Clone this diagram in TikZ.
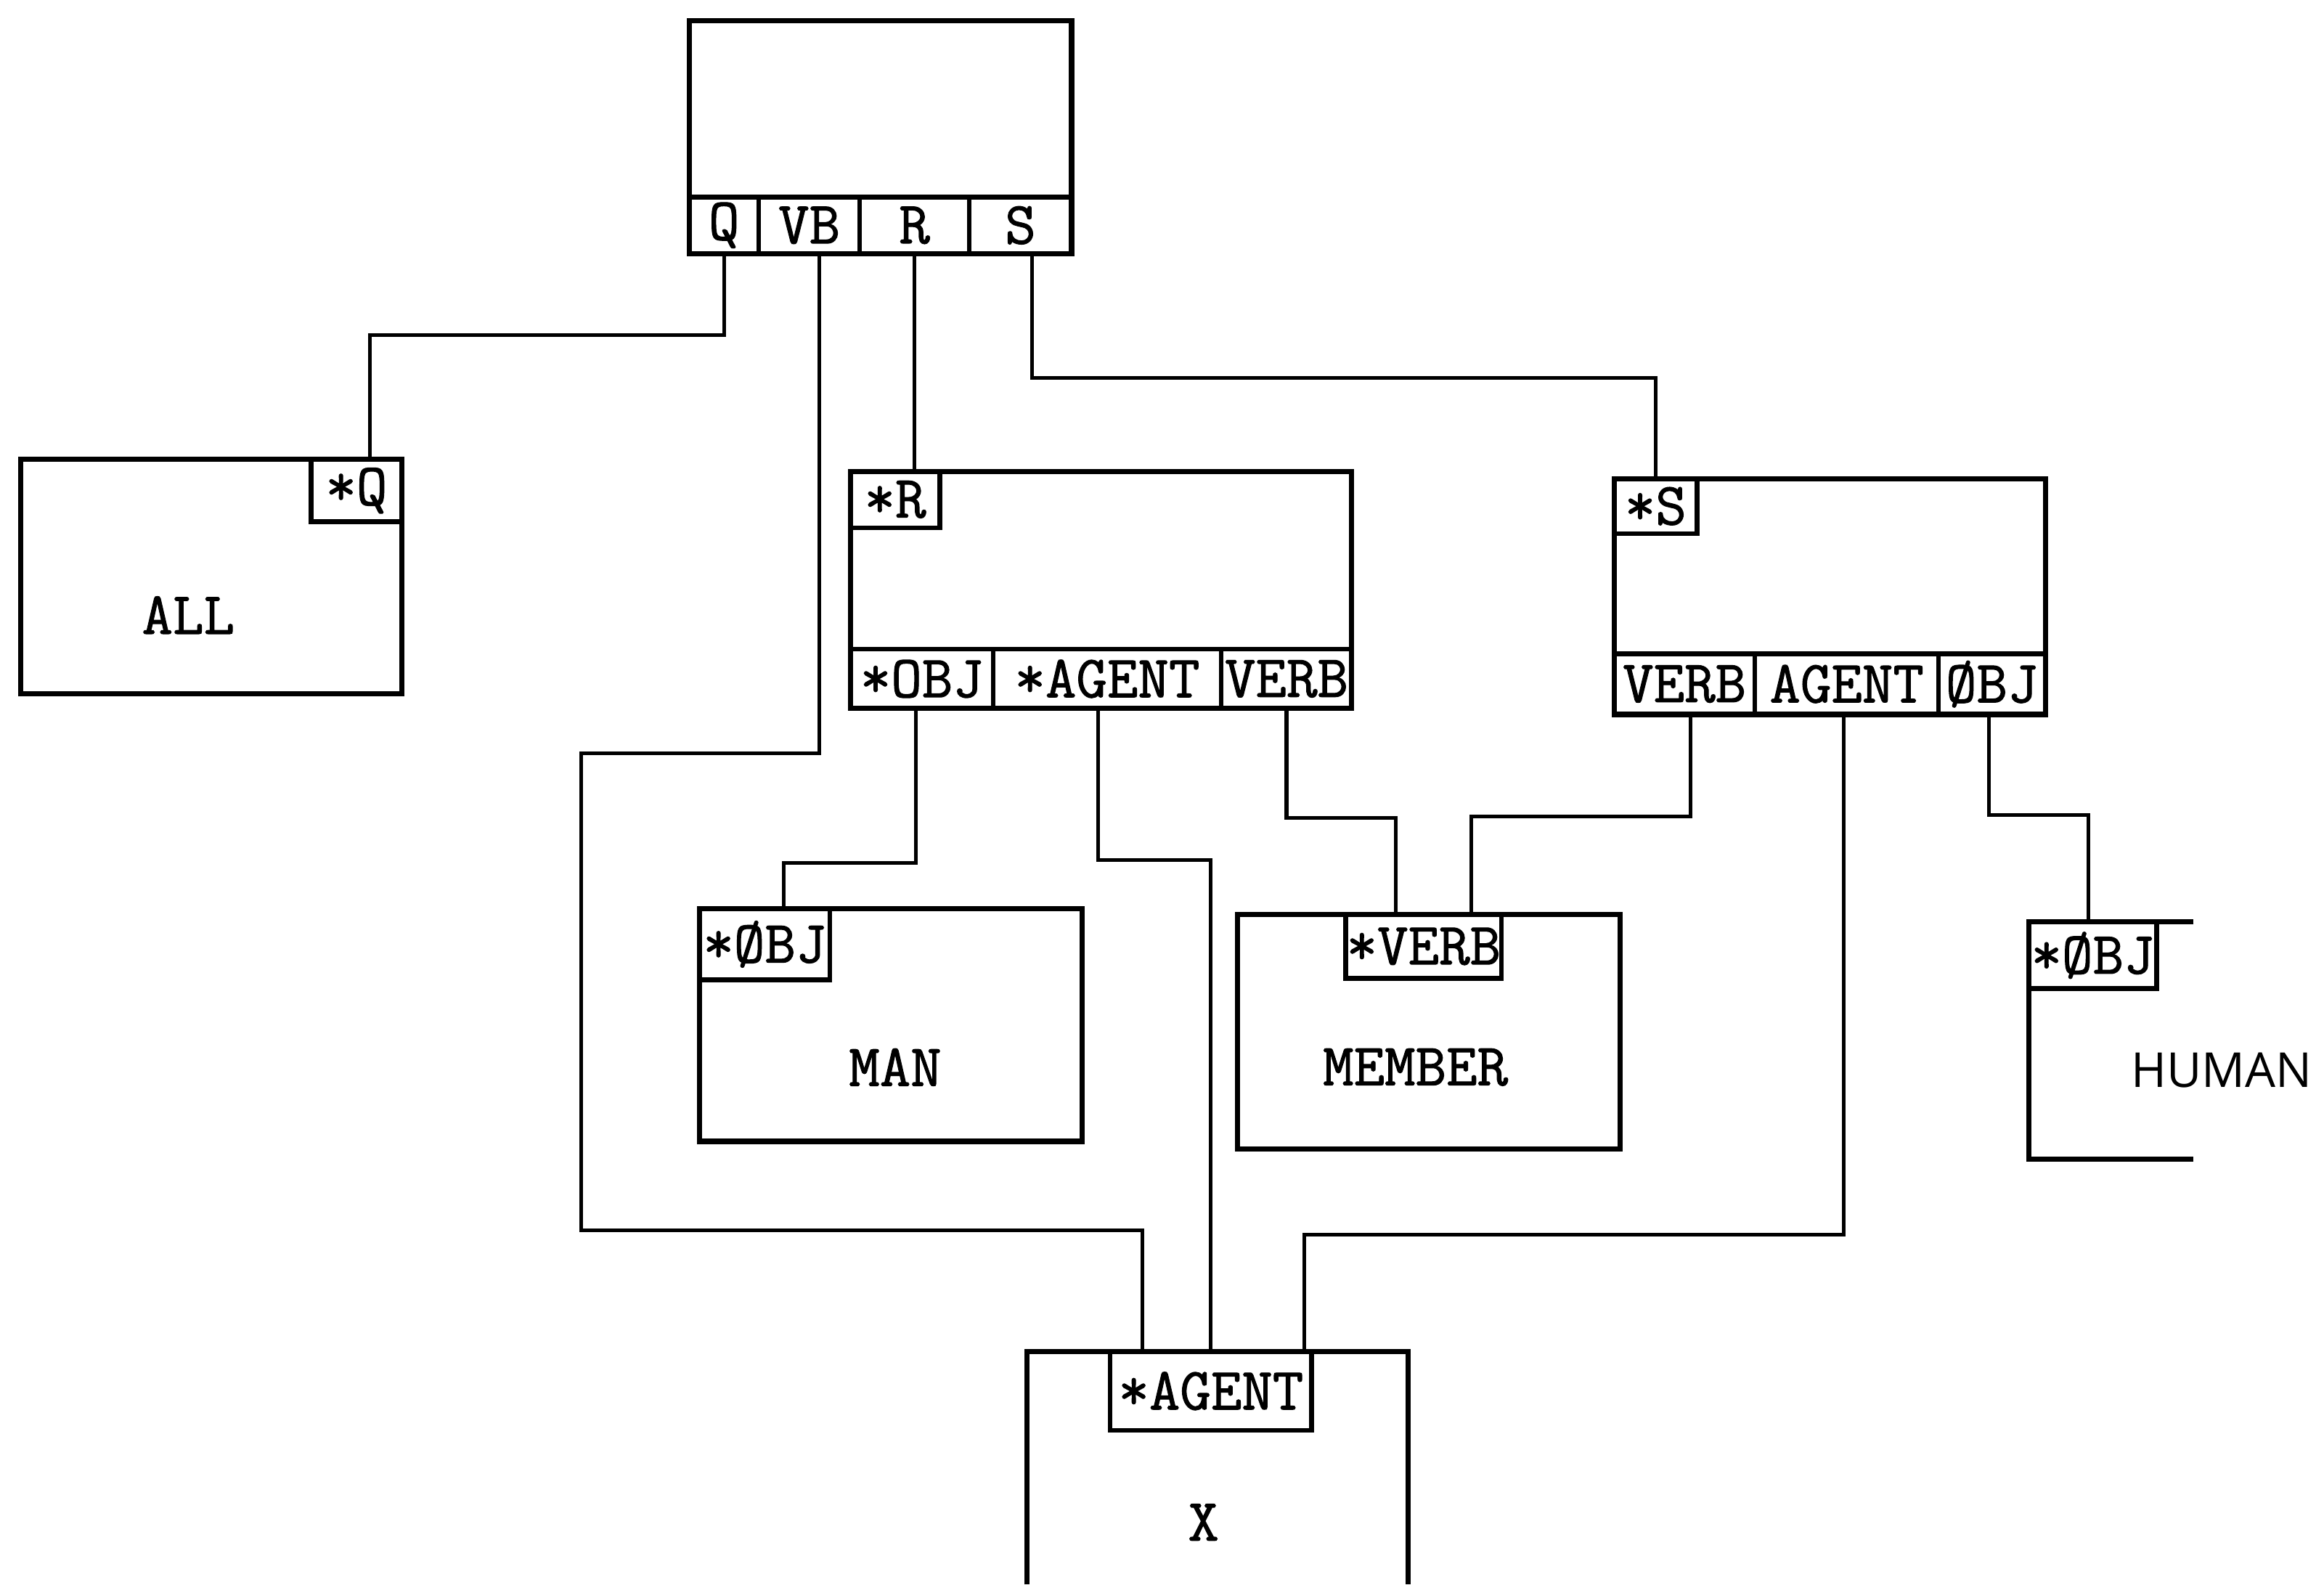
\documentclass[tikz,border=0pt]{standalone}
\usepackage{fontspec}
\newfontfamily\humanfont{Open Sans}
\newfontfamily\tw{Latin Modern Mono}[FakeBold=1.3]
\usetikzlibrary{calc}
\newcommand\mkbox[5]{\node[box,minimum width={(#4-#2)*0.02cm},minimum height={(#5-#3)*0.02cm}] (#1) at (#2,#3) {};}
\newcommand\mkslot[6]{\node[slot,minimum width={(#4-#2)*0.02cm},minimum height={(#5-#3)*0.02cm}] (#1) at (#2,#3) {#6};}
\begin{document}
\begin{tikzpicture}[x=0.02cm,y=-0.02cm,
  box/.style={draw,line width=2pt,inner sep=0pt,outer sep=0pt,anchor=north west},
  slot/.style={draw,line width=1.8pt,inner sep=0pt,outer sep=0pt,anchor=north west,font=\fontsize{23}{26}\selectfont\tw},
  lbl/.style={font=\fontsize{23}{26}\selectfont\tw,inner sep=0pt},
  wire/.style={line width=1.4pt}]
\useasboundingbox (0,0) rectangle (1568,1069);
% top box
\mkbox{top}{465}{14}{723}{171}
\mkslot{q}{465}{133}{512}{171}{Q}
\mkslot{vb}{512}{133}{580}{171}{VB}
\mkslot{r}{580}{133}{654}{171}{R}
\mkslot{s}{654}{133}{723}{171}{S}
% ALL box
\mkbox{all}{14}{310}{271}{468}
\mkslot{qs}{210}{310}{271}{352}{*Q}
\node[lbl] (tall) at (127,415) {ALL};
% R box
\mkbox{rbox}{574}{318}{912}{478}
\mkslot{rs}{574}{318}{634}{356}{*R}
\mkslot{ro}{574}{438}{670}{478}{*OBJ}
\mkslot{ra}{670}{438}{824}{478}{*AGENT}
\mkslot{rv}{824}{438}{912}{478}{VERB}
% S box
\mkbox{sbox}{1089}{323}{1380}{482}
\mkslot{ss}{1089}{323}{1145}{360}{*S}
\mkslot{sv}{1089}{441}{1184}{482}{VERB}
\mkslot{sa}{1184}{441}{1308}{482}{AGENT}
\mkslot{so}{1308}{441}{1380}{482}{ØBJ}
% MAN box
\mkbox{man}{472}{613}{730}{770}
\mkslot{mo}{472}{613}{560}{661}{*ØBJ}
\node[lbl] (tman) at (604,720) {MAN};
% MEMBER box
\mkbox{mem}{835}{617}{1093}{775}
\mkslot{mv}{908}{617}{1013}{660}{*VERB}
\node[lbl] (tmem) at (955,720) {MEMBER};
% HUMAN box (open at right)
\draw[line width=2pt] (1480,622) -- (1369,622) -- (1369,782) -- (1480,782);
\mkslot{ho}{1369}{622}{1455}{667}{*ØBJ}
\node[font=\humanfont\fontsize{18.5}{20}\selectfont,inner sep=0pt] (thum) at (1499,722) {HUMAN};
% X box (cut at bottom)
\draw[line width=2pt] (693,1069) -- (693,912) -- (950,912) -- (950,1069);
\mkslot{xa}{749}{912}{885}{965}{*AGENT}
\node[lbl] (tx) at (812,1027) {X};
% connectors
\draw[wire] (q.south) -- ++(0,55) -| ($(qs.north)+(9,0)$);
\draw[wire] ($(vb.south)+(7,0)$) -- ++(0,337) -| (392,830) -| ($(xa.north)+(-46,0)$);
\draw[wire] (r.south) -- (r.south |- rs.north);
\draw[wire] ($(s.south)+(8,0)$) -- ++(0,84) -| (ss.north);
\draw[wire] ($(ro.south)+(-4,0)$) -- ++(0,104) -| ($(mo.north)+(13,0)$);
\draw[wire] ($(ra.south)+(-6,0)$) -- ++(0,102) -| (xa.north);
\draw[wire] (rv.south) -- ++(0,74) -| ($(mv.north)+(-19,0)$);
\draw[wire] ($(sv.south)+(4,0)$) -- ++(0,69) -| ($(mv.north)+(32,0)$);
\draw[wire] ($(sa.south)+(-2,0)$) -- ++(0,351) -| ($(xa.north)+(63,0)$);
\draw[wire] ($(so.south)+(-2,0)$) -- ++(0,68) -| ($(ho.north)+(-3,0)$);
\end{tikzpicture}
\end{document}
